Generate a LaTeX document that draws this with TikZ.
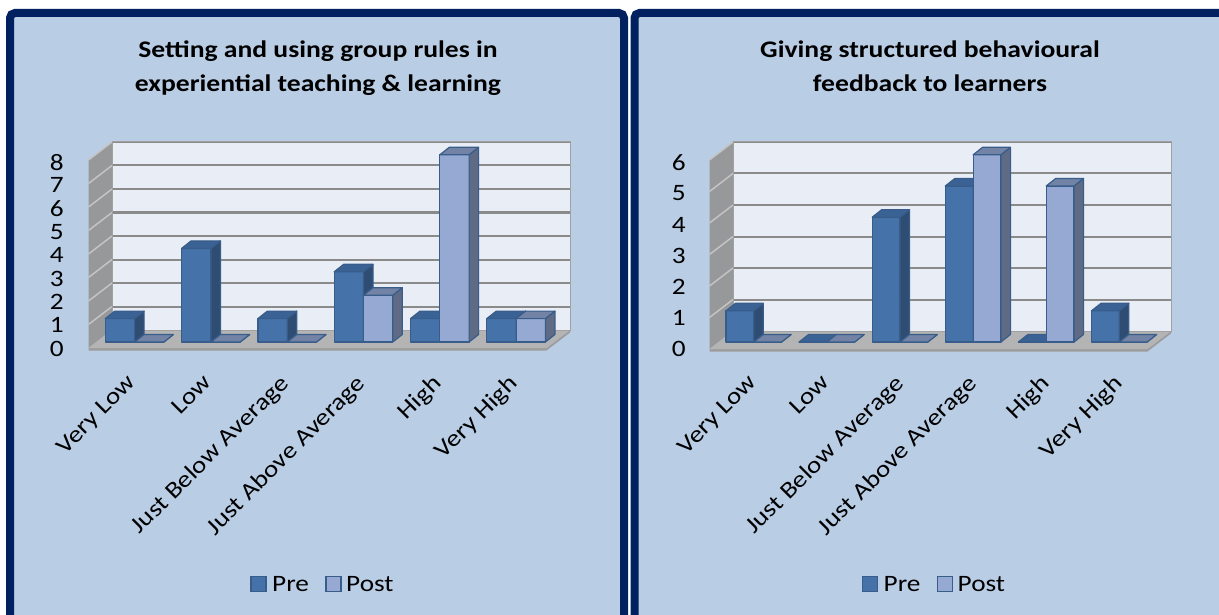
\documentclass[tikz,border=0pt]{standalone}
\usepackage{fontspec}
\setmainfont{Carlito}[FakeStretch=1.16]
\definecolor{panel}{HTML}{B9CDE5}
\definecolor{navy}{HTML}{00205F}
\definecolor{wallc}{HTML}{E9EDF5}
\definecolor{sidewallc}{HTML}{97989A}
\definecolor{sidegrid}{HTML}{C4C4C4}
\definecolor{floorc}{HTML}{B4B4B4}
\definecolor{floorfront}{HTML}{9C9C9C}
\definecolor{gridc}{HTML}{8A8A8A}
\definecolor{preF}{HTML}{4572A8}
\definecolor{preS}{HTML}{2F4D73}
\definecolor{preT}{HTML}{3B6294}
\definecolor{postF}{HTML}{96A9D3}
\definecolor{postS}{HTML}{5F6B85}
\definecolor{postT}{HTML}{7283A5}
\definecolor{barline}{HTML}{385D8A}
\newcommand\cbar[6]{%
  \pgfmathsetmacro\xa{#1}%
  \pgfmathsetmacro\xb{#1+#2}%
  \pgfmathsetmacro\yt{342-(#3)}%
  \draw[barface,fill=#4] (\xa,342) rectangle (\xb,\yt);
  \draw[barface,fill=#5] (\xb,342) -- (\xb+9.5,334.5) -- (\xb+9.5,\yt-7.5) -- (\xb,\yt) -- cycle;
  \draw[barface,fill=#6] (\xa,\yt) -- (\xb,\yt) -- (\xb+9.5,\yt-7.5) -- (\xa+9.5,\yt-7.5) -- cycle;
}
\begin{document}
\begin{tikzpicture}[x=1pt,y=-1pt,
  barface/.style={draw=barline,line width=1.2pt,line join=round},
  txt/.style={font=\fontsize{23.5}{28}\selectfont,inner sep=0pt,text=black},
  ttl/.style={font=\bfseries\fontsize{23.8}{28}\selectfont,inner sep=0pt,anchor=base,text=black},
  lab/.style={txt,rotate=45,anchor=north east},
  ylab/.style={txt,anchor=east},
  gridline/.style={draw=gridc,line width=2pt},
  sgrid/.style={draw=sidegrid,line width=1.5pt},
  legbox/.style={draw=barline,line width=1.2pt}]
\useasboundingbox (0,0) rectangle (1219,615);
\clip (0,0) rectangle (1219,615);
\fill[white] (0,0) rectangle (1219,615);
% panels
\draw[navy,fill=panel,line width=8pt,rounded corners=5pt] (10,13) rectangle (624,640);
\draw[navy,fill=panel,line width=8pt,rounded corners=5pt] (634.5,13) rectangle (1240,640);
% titles
\node[ttl] (t1a) at (318,57.5) {Setting and using group rules in};
\node[ttl] (t1b) at (318,91.5) {experiential teaching \& learning};
\node[ttl] (t2a) at (930,57.5) {Giving structured behavioural};
\node[ttl] (t2b) at (930,91.5) {feedback to learners};
% ---------- left chart walls
\fill[wallc] (112,142) rectangle (570,330);
\fill[sidewallc] (88.5,160) -- (112,142) -- (112,330) -- (88.5,348) -- cycle;
\fill[floorfront] (88.5,348) -- (546.5,348) -- (570,330) -- (570,332.5) -- (546.5,350.5) -- (88.5,350.5) -- cycle;
\fill[floorc] (112,330) -- (570,330) -- (546.5,348) -- (88.5,348) -- cycle;
\foreach \v in {1,...,8} {
  \draw[gridline] (112,330-23.5*\v) -- (570,330-23.5*\v);
  \draw[sgrid] (88.5,348-23.5*\v) -- (112,330-23.5*\v);
}
\draw[draw=gridc!80,line width=1pt] (112,142) rectangle (570,330);
\foreach \v in {0,...,8} {
  \node[ylab] (ly\v) at (64,348.5-23.3*\v) {\v};
}
\foreach \p/\q [count=\i from 0] in {1/0,4/0,1/0,3/2,1/8,1/1} {
  \pgfmathsetmacro\X{105.3+76.3*\i}
  \cbar{\X}{29.3}{\p*23.4}{preF}{preS}{preT}
  \cbar{\X+29.3}{29.3}{\q*23.4}{postF}{postS}{postT}
}
\foreach \t [count=\i from 0] in {Very Low,Low,Just Below Average,Just Above Average,High,Very High} {
  \node[lab] (lx\i) at (105.3+76.3*\i+20.5,373) {\t};
}
% ---------- right chart walls
\fill[wallc] (733,142) rectangle (1171,331);
\fill[sidewallc] (709.5,160) -- (733,142) -- (733,331) -- (709.5,349) -- cycle;
\fill[floorfront] (709.5,349) -- (1147.5,349) -- (1171,331) -- (1171,333.5) -- (1147.5,351.5) -- (709.5,351.5) -- cycle;
\fill[floorc] (733,331) -- (1171,331) -- (1147.5,349) -- (709.5,349) -- cycle;
\foreach \v in {1,...,6} {
  \draw[gridline] (733,331-31.5*\v) -- (1171,331-31.5*\v);
  \draw[sgrid] (709.5,349-31.5*\v) -- (733,331-31.5*\v);
}
\draw[draw=gridc!80,line width=1pt] (733,142) rectangle (1171,331);
\foreach \v in {0,...,6} {
  \node[ylab] (ry\v) at (686,348.5-31*\v) {\v};
}
\foreach \p/\q [count=\i from 0] in {1/0,0/0,4/0,5/6,0/5,1/0} {
  \pgfmathsetmacro\X{726+73.1*\i}
  \cbar{\X}{27.8}{\p*31.2}{preF}{preS}{preT}
  \cbar{\X+27.8}{27.8}{\q*31.2}{postF}{postS}{postT}
}
\foreach \t [count=\i from 0] in {Very Low,Low,Just Below Average,Just Above Average,High,Very High} {
  \node[lab] (rx\i) at (726+73.1*\i+21,373) {\t};
}
% ---------- legends
\draw[legbox,fill=preF] (251,576.5) rectangle (266,591.5);
\node[txt,anchor=base west] (lpre) at (272,591) {Pre};
\draw[legbox,fill=postF] (326,576.5) rectangle (341,591.5);
\node[txt,anchor=base west] (lpost) at (346,591) {Post};
\draw[legbox,fill=preF] (862.5,576.5) rectangle (877.5,591.5);
\node[txt,anchor=base west] (rpre) at (883.5,591) {Pre};
\draw[legbox,fill=postF] (937.5,576.5) rectangle (952.5,591.5);
\node[txt,anchor=base west] (rpost) at (957.5,591) {Post};
\end{tikzpicture}
\end{document}
